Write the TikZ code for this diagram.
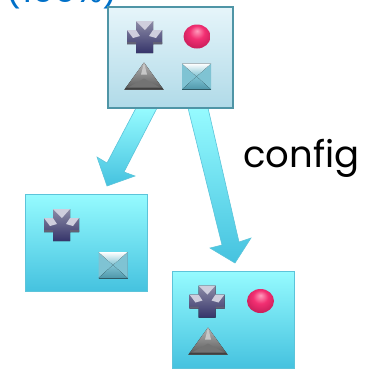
\documentclass[tikz,border=0pt]{standalone}
\usepackage{fontspec}
\setmainfont{Poppins}
\definecolor{bluet}{HTML}{0070C8}
\definecolor{edgeTop}{HTML}{4F95A6}
\definecolor{topA}{HTML}{E6F5FA}
\definecolor{topB}{HTML}{B0DAE8}
\definecolor{aqTop}{HTML}{96FBFF}
\definecolor{aqBot}{HTML}{45C2DF}
\definecolor{aqEdge}{HTML}{5CC4DA}
\definecolor{crossC}{HTML}{35346A}
\definecolor{crossL}{HTML}{CFCEDD}
\definecolor{crossM}{HTML}{8C8BA6}
\definecolor{ballL}{HTML}{FF9CBC}
\definecolor{ballC}{HTML}{F22F72}
\definecolor{ballD}{HTML}{C81E5A}
\definecolor{squareC}{HTML}{4F97AA}
\definecolor{squareL}{HTML}{7FC3D3}
\pgfdeclareradialshading{glossy}{\pgfpoint{0bp}{12bp}}{color(0bp)=(ballL); color(14bp)=(ballC); color(30bp)=(ballD); color(50bp)=(ballD)}
\tikzset{
  x=1pt,y=-1pt,
  topbox/.style={draw=edgeTop,line width=2pt,top color=topA,bottom color=topB,minimum width=125pt,minimum height=101pt,inner sep=0pt,outer sep=0pt},
  subbox/.style={draw=aqEdge,line width=1pt,top color=aqTop,bottom color=aqBot,minimum width=122pt,minimum height=97pt,inner sep=0pt,outer sep=0pt},
  blockarrow/.style={draw=aqEdge,line width=.6pt,top color=aqTop,bottom color=aqBot,line join=miter},
  pics/pluss/.style={code={
    \fill[top color=crossM,bottom color=crossC] (-9,-16)--(8,-16)--(8,-7)--(17,-7)--(17,7)--(8,7)--(8,16)--(-9,16)--(-9,7)--(-18,7)--(-18,-7)--(-9,-7)--cycle;
    \fill[crossL] (-9,-16)--(8,-16)--(0,-7)--cycle;
    \fill[crossL] (-18,-7)--(-9,-7)--(-5,-1)--(-12,1)--cycle;
    \fill[crossL] (17,-7)--(8,-7)--(4,-1)--(11,1)--cycle;
    \fill[crossM!70!black] (-18,5)--(-9,5)--(-9,7)--(-18,7)--cycle (8,5)--(17,5)--(17,7)--(8,7)--cycle;
  }},
  pics/ball/.style={code={
    \shade[shading=glossy] (0,0) ellipse [x radius=13.5,y radius=12];
  }},
  pics/tri/.style={code={
    \fill[top color=black!30,bottom color=black!65] (0,-14)--(19.5,13)--(-19.5,13)--cycle;
    \fill[black!55] (-19.5,13)--(0,2)--(19.5,13)--cycle;
    \fill[black!75] (-19.5,13)--(19.5,13)--(18,11)--(-18,11)--cycle;
    \fill[black!22] (0,-14)--(-3,-2)--(3,-2)--cycle;
  }},
  pics/sq/.style={code={
    \fill[squareC] (-14.5,-13)rectangle(14.5,13);
    \fill[squareL] (-14.5,-13)--(0,0)--(-14.5,13)--cycle;
    \fill[squareL] (14.5,-13)--(0,0)--(14.5,13)--cycle;
    \fill[top color=squareL,bottom color=squareC] (-14.5,13)--(0,0)--(14.5,13)--cycle;
    \fill[top color=white,bottom color=squareL] (-14.5,-13)--(14.5,-13)--(0,0)--cycle;
    \draw[squareC!60!black,line width=.7pt] (-14.5,13)--(14.5,13);
  }},
}
\begin{document}
\begin{tikzpicture}
\useasboundingbox (0,0) rectangle (371,368);
\node[font=\fontsize{35}{35}\selectfont,text=bluet,anchor=base west,inner sep=0pt] (pct) at (5,2) {(100\%)};

\coordinate (a1) at (136,108);
\coordinate (a2) at (157,108);
\coordinate (b1) at (188,108);
\coordinate (b2) at (208,108);
\draw[blockarrow] (a1)--(107,163)--(97,157)--(107,186)--(135,176)--(124,172)--(a2)--cycle;
\draw[blockarrow] (b1)--(222,245)--(210,248)--(235,263)--(251,238)--(239,242)--(b2)--cycle;

\node[topbox] (top) at (170,57) {};
\node[subbox] (left) at (86,242.5) {};
\node[subbox] (right) at (233,319.5) {};

\pic at (145,37) {pluss};
\pic at (197,36.5) {ball};
\pic at (144,76.5) {tri};
\pic at (196.5,76.5) {sq};

\pic at (62,225) {pluss};
\pic at (113,265) {sq};

\pic at (207.5,301.5) {pluss};
\pic at (260.5,301) {ball};
\pic at (208,341.5) {tri};

\node[font=\fontsize{37}{37}\selectfont,anchor=base west,inner sep=0pt] (cfg) at (243,167) {config};
\end{tikzpicture}
\end{document}
